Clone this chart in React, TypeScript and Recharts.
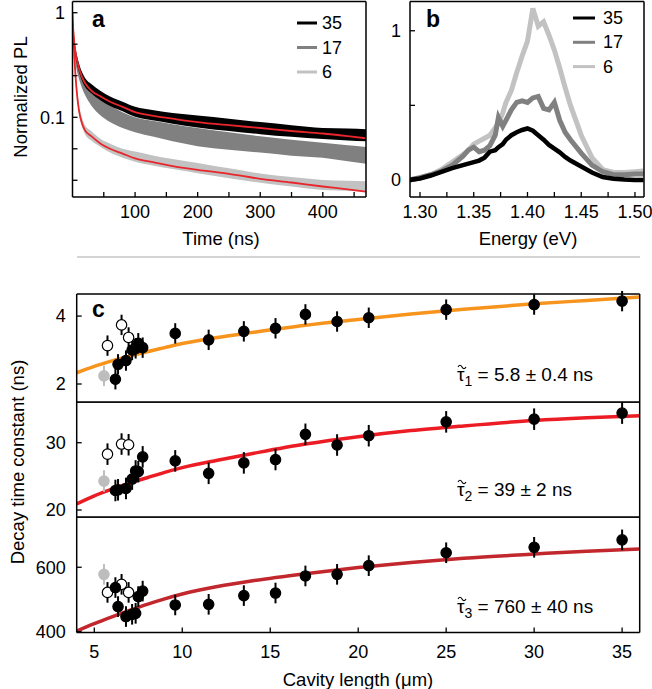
import React from "react"
import { ComposedChart, Area, Line, Scatter, ErrorBar, XAxis, YAxis } from "recharts"

const FONT = '"Liberation Sans", Arial, sans-serif'

// panel a: PL decay, bands read as low/high envelopes of the noisy traces
const decayT = [0, 3, 6, 10, 15, 20, 30, 45, 60, 80, 100, 130, 160, 200, 250, 300, 350, 400, 440, 469]
const pl35Lo = [0.66, 0.45, 0.345, 0.275, 0.225, 0.196, 0.17, 0.145, 0.128, 0.114, 0.101, 0.093, 0.087, 0.08, 0.074, 0.069, 0.065, 0.062, 0.06, 0.059]
const pl35Hi = [0.84, 0.56, 0.42, 0.335, 0.272, 0.238, 0.208, 0.178, 0.158, 0.141, 0.126, 0.117, 0.11, 0.104, 0.097, 0.09, 0.084, 0.079, 0.078, 0.077]
const pl17Lo = [0.62, 0.4, 0.3, 0.238, 0.192, 0.163, 0.13, 0.104, 0.09, 0.079, 0.072, 0.065, 0.059, 0.053, 0.049, 0.046, 0.043, 0.041, 0.038, 0.036]
const pl17Hi = [0.78, 0.5, 0.38, 0.3, 0.246, 0.214, 0.178, 0.148, 0.13, 0.112, 0.1, 0.092, 0.086, 0.079, 0.072, 0.066, 0.061, 0.057, 0.054, 0.052]
const pl6Lo = [0.85, 0.35, 0.19, 0.112, 0.082, 0.069, 0.06, 0.052, 0.046, 0.041, 0.0376, 0.0345, 0.032, 0.0292, 0.0262, 0.0237, 0.0218, 0.0202, 0.0198, 0.0194]
const pl6Hi = [1.05, 0.44, 0.24, 0.138, 0.1, 0.084, 0.074, 0.062, 0.056, 0.05, 0.047, 0.043, 0.04, 0.0366, 0.0325, 0.029, 0.0268, 0.0252, 0.0248, 0.0245]
const fit35 = [0.8, 0.5, 0.38, 0.3, 0.245, 0.213, 0.18, 0.158, 0.141, 0.126, 0.112, 0.103, 0.097, 0.09, 0.084, 0.079, 0.074, 0.07, 0.066, 0.063]
const fit6 = [1.0, 0.38, 0.2, 0.12, 0.088, 0.075, 0.066, 0.056, 0.05, 0.045, 0.0405, 0.037, 0.0342, 0.0315, 0.0288, 0.0258, 0.0238, 0.0218, 0.0205, 0.0195]
const timeTicks = [50, 100, 150, 200, 250, 300, 350, 400, 450]
const plTicks = [0.025, 0.05, 0.1, 0.25, 0.5, 1]

// panel b: PL spectra
const energy = [1.29, 1.3, 1.31, 1.32, 1.33, 1.34, 1.345, 1.35, 1.355, 1.36, 1.365, 1.37, 1.373, 1.377, 1.38, 1.385, 1.39, 1.395, 1.4, 1.405, 1.41, 1.415, 1.42, 1.425, 1.43, 1.435, 1.44, 1.45, 1.46, 1.47, 1.48, 1.49, 1.5, 1.508]
const spec35 = [0, 0.01, 0.03, 0.055, 0.08, 0.1, 0.11, 0.12, 0.13, 0.15, 0.19, 0.2, 0.22, 0.24, 0.27, 0.3, 0.32, 0.335, 0.345, 0.33, 0.3, 0.27, 0.235, 0.21, 0.185, 0.155, 0.13, 0.09, 0.05, 0.02, 0.008, 0.003, 0, 0]
const spec17 = [0, 0.015, 0.035, 0.06, 0.1, 0.16, 0.2, 0.22, 0.19, 0.2, 0.23, 0.3, 0.42, 0.36, 0.4, 0.47, 0.52, 0.53, 0.52, 0.55, 0.56, 0.48, 0.47, 0.52, 0.4, 0.32, 0.27, 0.18, 0.1, 0.055, 0.035, 0.035, 0.04, 0.04]
const spec6 = [0, 0.015, 0.035, 0.07, 0.12, 0.17, 0.2, 0.24, 0.26, 0.28, 0.3, 0.35, 0.38, 0.45, 0.52, 0.6, 0.72, 0.83, 0.93, 1.15, 1.03, 1.06, 0.97, 0.87, 0.75, 0.62, 0.5, 0.3, 0.15, 0.07, 0.05, 0.05, 0.055, 0.06]
const energyTicks = [1.3, 1.325, 1.35, 1.375, 1.4, 1.425, 1.45, 1.475, 1.5]

// panel c: decay constants vs cavity length
const cavLen = [6.2, 6.35, 6.8, 7.15, 7.35, 7.5, 7.75, 9.6, 11.5, 13.5, 15.3, 17.0, 18.8, 20.6, 25, 30, 35]
const tau1 = [2.14, 2.58, 2.69, 3.0, 3.05, 3.2, 3.07, 3.49, 3.3, 3.55, 3.64, 4.05, 3.84, 3.95, 4.19, 4.34, 4.44]
const tau2 = [22.9, 23.0, 23.2, 24.6, 25.8, 25.7, 27.9, 27.3, 25.45, 27.0, 27.5, 31.25, 29.66, 31.04, 33.1, 33.5, 34.4]
const tau3 = [537, 478, 447, 454, 457, 509, 526, 483, 485, 512, 520, 573, 578, 605, 645, 662, 685]
const openLen = [5.75, 6.55, 6.95]
const open1 = [3.13, 3.74, 3.37]
const open2 = [28.3, 29.8, 29.7]
const open3 = [522, 547, 522]
const greyLen = [5.55]
const grey1 = [2.24]
const grey2 = [24.3]
const grey3 = [578]
const fitLen = [4, 5, 6, 7, 8, 9, 10, 12, 14, 17, 20, 23, 26, 30, 33, 36]
const fitTau1 = [2.33, 2.52, 2.68, 2.82, 2.95, 3.07, 3.19, 3.37, 3.52, 3.73, 3.9, 4.06, 4.2, 4.36, 4.46, 4.56]
const fitTau2 = [20.9, 22.1, 23.1, 24.0, 24.8, 25.6, 26.3, 27.4, 28.4, 29.8, 30.9, 31.8, 32.5, 33.3, 33.7, 34.0]
const fitTau3 = [402, 425, 446, 466, 485, 502, 517, 540, 558, 580, 599, 615, 628, 641, 650, 657]
const cavTicks = [5, 10, 15, 20, 25, 30, 35]

const axisLine = { stroke: "#000", strokeWidth: 1.5 }
const tickLine = { stroke: "#000", strokeWidth: 1.3 }
const tickText = { fill: "#000", fontSize: 18, fontFamily: FONT }

const decayRows = decayT.map((t, i) => ({
  t,
  b35: [pl35Lo[i], pl35Hi[i]],
  b17: [pl17Lo[i], pl17Hi[i]],
  b6: [pl6Lo[i], pl6Hi[i]],
  f35: fit35[i],
  f6: fit6[i],
}))

const specRows = energy.map((e, i) => ({ e, s35: spec35[i], s17: spec17[i], s6: spec6[i] }))

const rows = (xs: number[], ys: number[], err: number) => xs.map((x, i) => ({ x, y: ys[i], e: err }))

const dot = (fill: string, stroke: string) => (p: any) => (
  <circle cx={p.cx} cy={p.cy} r={5.2} fill={fill} stroke={stroke} strokeWidth={1.2} />
)

function DecayPanel() {
  return (
    <div style={{ position: "absolute", left: 0, top: 0 }}>
      <ComposedChart width={380} height={260} data={decayRows} margin={{ top: 1.5, right: 14, bottom: 33, left: 22.5 }}>
        <XAxis dataKey="t" type="number" domain={[0, 469]} allowDataOverflow ticks={timeTicks} interval={0}
          tickFormatter={(v) => (v % 100 === 0 ? String(v) : "")} height={30}
          tickSize={-5} tickMargin={13.4} tick={tickText} axisLine={axisLine} tickLine={tickLine} />
        <XAxis xAxisId="top" orientation="top" mirror type="number" domain={[0, 469]} allowDataOverflow
          tick={false} tickLine={false} axisLine={axisLine} />
        <YAxis scale="log" type="number" domain={[0.0173, 1.28]} allowDataOverflow ticks={plTicks} interval={0}
          tickFormatter={(v) => (v === 1 ? "1" : v === 0.1 ? "0.1" : "")} width={50}
          tickSize={-5} tickMargin={12.5} tick={tickText} axisLine={axisLine} tickLine={tickLine} />
        <YAxis yAxisId="r" orientation="right" mirror scale="log" type="number" domain={[0.0173, 1.28]}
          allowDataOverflow ticks={plTicks} interval={0} tick={false} tickSize={5} axisLine={axisLine} tickLine={tickLine} />
        <Area dataKey="b6" type="monotone" stroke="none" fill="#c2c2c2" fillOpacity={1} isAnimationActive={false} />
        <Area dataKey="b17" type="monotone" stroke="none" fill="#808080" fillOpacity={1} isAnimationActive={false} />
        <Area dataKey="b35" type="monotone" stroke="none" fill="#000" fillOpacity={1} isAnimationActive={false} />
        <Line dataKey="f35" type="monotone" stroke="#e8262b" strokeWidth={1.8} dot={false} isAnimationActive={false} />
        <Line dataKey="f6" type="monotone" stroke="#e8262b" strokeWidth={1.8} dot={false} isAnimationActive={false} />
      </ComposedChart>
    </div>
  )
}

function SpectrumPanel() {
  return (
    <div style={{ position: "absolute", left: 360, top: 0 }}>
      <ComposedChart width={292} height={260} data={specRows} margin={{ top: 1.5, right: 8, bottom: 33, left: 0 }}>
        <XAxis dataKey="e" type="number" domain={[1.2907, 1.5084]} allowDataOverflow ticks={energyTicks} interval={0}
          tickFormatter={(v, i) => (i % 2 === 0 ? v.toFixed(2) : "")} height={30}
          tickSize={-5} tickMargin={13.4} tick={tickText} axisLine={axisLine} tickLine={tickLine} />
        <XAxis xAxisId="top" orientation="top" mirror type="number" domain={[1.2907, 1.5084]} allowDataOverflow
          tick={false} tickLine={false} axisLine={axisLine} />
        <YAxis type="number" domain={[-0.114, 1.196]} allowDataOverflow ticks={[0, 0.5, 1]} interval={0}
          tickFormatter={(v) => (v === 0.5 ? "" : String(v))} width={50}
          tickSize={-5} tickMargin={14} tick={tickText} axisLine={axisLine} tickLine={tickLine} />
        <YAxis yAxisId="r" orientation="right" mirror type="number" domain={[-0.114, 1.196]} allowDataOverflow
          ticks={[0, 0.5, 1]} interval={0} tick={false} tickSize={5} axisLine={axisLine} tickLine={tickLine} />
        <Line dataKey="s6" type="linear" stroke="#c2c2c2" strokeWidth={5} dot={false} isAnimationActive={false} />
        <Line dataKey="s17" type="linear" stroke="#808080" strokeWidth={5} dot={false} isAnimationActive={false} />
        <Line dataKey="s35" type="linear" stroke="#000" strokeWidth={4.5} dot={false} isAnimationActive={false} />
      </ComposedChart>
    </div>
  )
}

type CavProps = {
  top: number
  height: number
  bottomMargin: number
  topMargin: number
  domain: [number, number]
  ticks: number[]
  filled: number[]
  open: number[]
  grey: number[]
  fit: number[]
  fitColor: string
  err: number
  showX: boolean
}

function CavityPanel(p: CavProps) {
  const fitRows = fitLen.map((x, i) => ({ x, y: p.fit[i] }))
  return (
    <div style={{ position: "absolute", left: 0, top: p.top }}>
      <ComposedChart width={652} height={p.height} margin={{ top: p.topMargin, right: 12.3, bottom: p.bottomMargin, left: 26.7 }}>
        {p.showX ? (
          <XAxis dataKey="x" type="number" domain={[4, 36]} allowDataOverflow ticks={cavTicks} interval={0} height={30}
            tickSize={-5} tickMargin={18.2} tick={tickText} axisLine={axisLine} tickLine={tickLine} />
        ) : (
          <XAxis dataKey="x" type="number" domain={[4, 36]} allowDataOverflow ticks={cavTicks} interval={0} mirror
            tick={false} tickSize={5} axisLine={axisLine} tickLine={tickLine} />
        )}
        <XAxis xAxisId="top" orientation="top" mirror type="number" domain={[4, 36]} allowDataOverflow
          ticks={cavTicks} interval={0} tick={false} tickSize={5} axisLine={axisLine} tickLine={tickLine} />
        <YAxis dataKey="y" type="number" domain={p.domain} allowDataOverflow ticks={p.ticks} interval={0} width={50}
          tickSize={-5} tickMargin={16} tick={tickText} axisLine={axisLine} tickLine={tickLine} />
        <YAxis yAxisId="r" orientation="right" mirror type="number" domain={p.domain} allowDataOverflow
          ticks={p.ticks} interval={0} tick={false} tickSize={5} axisLine={axisLine} tickLine={tickLine} />
        <Line data={fitRows} dataKey="y" type="monotone" stroke={p.fitColor} strokeWidth={3.5}
          dot={false} isAnimationActive={false} />
        <Scatter data={rows(greyLen, p.grey, p.err)} shape={dot("#bdbdbd", "#bdbdbd")} isAnimationActive={false}>
          <ErrorBar dataKey="e" direction="y" width={0} stroke="#bdbdbd" strokeWidth={2} />
        </Scatter>
        <Scatter data={rows(openLen, p.open, p.err)} shape={dot("#fff", "#000")} isAnimationActive={false}>
          <ErrorBar dataKey="e" direction="y" width={0} stroke="#000" strokeWidth={2} />
        </Scatter>
        <Scatter data={rows(cavLen, p.filled, p.err)} shape={dot("#000", "#000")} isAnimationActive={false}>
          <ErrorBar dataKey="e" direction="y" width={0} stroke="#000" strokeWidth={2} />
        </Scatter>
      </ComposedChart>
    </div>
  )
}

function Tau({ x, y, sub, rest }: { x: number; y: number; sub: string; rest: string }) {
  return (
    <g>
      <text fontFamily={FONT} fontSize={19} fill="#000" x={x} y={y}>
        τ<tspan fontSize={14} dy={5}>{sub}</tspan><tspan dy={-5}>{" = " + rest}</tspan>
      </text>
      <path d={`M${x + 1},${y - 14} q2,-3.5 4,0 t4,0`} fill="none" stroke="#000" strokeWidth={1.1} />
    </g>
  )
}

function Overlay() {
  const t = { fontFamily: FONT, fontSize: 18.5, fill: "#000" }
  const letter = { fontFamily: FONT, fontSize: 23, fontWeight: 700, fill: "#000" }
  const leg = { fontFamily: FONT, fontSize: 18, fill: "#000", dominantBaseline: "central" as const }
  const names = ["35", "17", "6"]
  const cols = ["#000", "#808080", "#c2c2c2"]
  return (
    <svg width={652} height={689} style={{ position: "absolute", left: 0, top: 0, pointerEvents: "none" }}>
      <text {...t} x={20} y={97} textAnchor="middle" dominantBaseline="central" transform="rotate(-90 20 97)">Normalized PL</text>
      <text {...t} x={221} y={238} textAnchor="middle" dominantBaseline="central">Time (ns)</text>
      <text {...t} x={528} y={238} textAnchor="middle" dominantBaseline="central">Energy (eV)</text>
      <line x1={77} x2={640} y1={257} y2={257} stroke="#aaa" strokeWidth={1} />
      <text {...t} x={17} y={462} textAnchor="middle" dominantBaseline="central" transform="rotate(-90 17 462)">Decay time constant (ns)</text>
      <text {...t} x={358} y={679} textAnchor="middle" dominantBaseline="central">Cavity length (μm)</text>
      <text {...letter} x={92} y={27}>a</text>
      <text {...letter} x={426} y={27}>b</text>
      <text {...letter} x={92} y={317}>c</text>
      {names.map((n, i) => (
        <g key={"a" + n}>
          <line x1={297} x2={317} y1={23 + i * 24.5} y2={23 + i * 24.5} stroke={cols[i]} strokeWidth={3} />
          <text {...leg} x={322} y={23 + i * 24.5}>{n}</text>
        </g>
      ))}
      {names.map((n, i) => (
        <g key={"b" + n}>
          <line x1={573} x2={595} y1={18 + i * 24.3} y2={18 + i * 24.3} stroke={cols[i]} strokeWidth={3} />
          <text {...leg} x={603} y={18 + i * 24.3}>{n}</text>
        </g>
      ))}
      <Tau x={457} y={381} sub="1" rest="5.8 ± 0.4 ns" />
      <Tau x={457} y={496} sub="2" rest="39 ± 2 ns" />
      <Tau x={457} y={613} sub="3" rest="760 ± 40 ns" />
    </svg>
  )
}

export default function App() {
  return (
    <div style={{ position: "absolute", left: 0, top: 0, width: 652, height: 689, background: "#fff", fontFamily: FONT }}>
      <DecayPanel />
      <SpectrumPanel />
      <CavityPanel top={280} height={132} topMargin={14} bottomMargin={10} domain={[1.47, 4.65]} ticks={[2, 4]}
        filled={tau1} open={open1} grey={grey1} fit={fitTau1} fitColor="#f7941d" err={0.3} showX={false} />
      <CavityPanel top={402} height={125} topMargin={0} bottomMargin={10} domain={[18.96, 36.05]} ticks={[20, 30]}
        filled={tau2} open={open2} grey={grey2} fit={fitTau2} fitColor="#ec1c24" err={1.6} showX={false} />
      <CavityPanel top={517} height={160} topMargin={0} bottomMargin={14.5} domain={[397.5, 756]} ticks={[400, 600]}
        filled={tau3} open={open3} grey={grey3} fit={fitTau3} fitColor="#c1272d" err={32} showX={true} />
      <Overlay />
    </div>
  )
}
